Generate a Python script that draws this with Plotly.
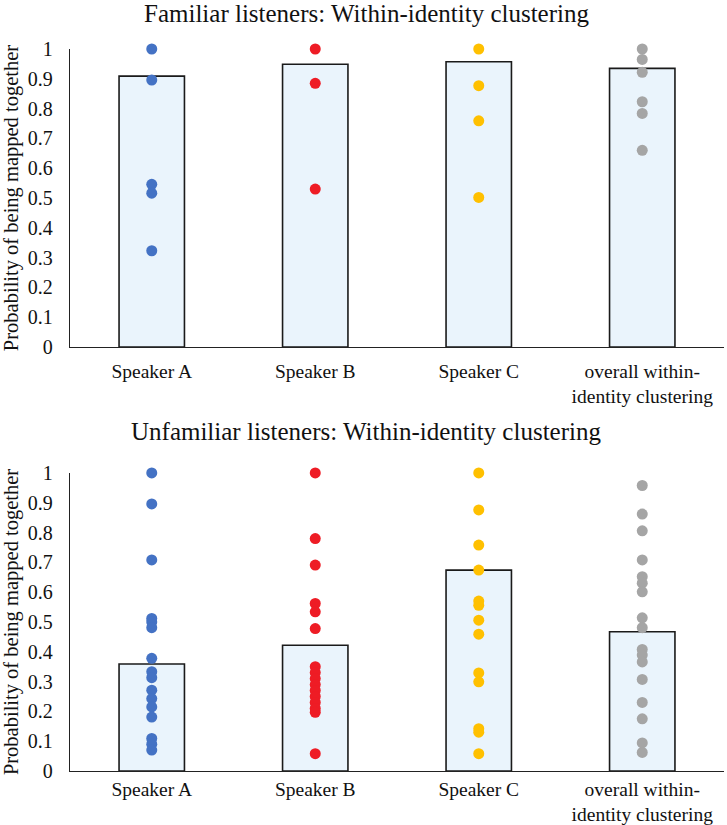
import plotly.graph_objects as go
from plotly.subplots import make_subplots

categories = ["Speaker A", "Speaker B", "Speaker C", "overall within-<br>identity clustering"]
colors = ["#4472C4", "#EE1C25", "#FFC000", "#A5A5A5"]

# Familiar listeners
fam_means = [0.909, 0.949, 0.957, 0.935]
fam_a = [1.0, 0.896, 0.546, 0.516, 0.323]
fam_b = [1.0, 0.885, 0.530]
fam_c = [1.0, 0.877, 0.759, 0.502]
fam_all = [1.0, 0.965, 0.922, 0.823, 0.784, 0.660]

# Unfamiliar listeners
unf_means = [0.359, 0.422, 0.674, 0.467]
unf_a = [1.0, 0.896, 0.708, 0.512, 0.50, 0.481, 0.378, 0.333, 0.313, 0.271, 0.243, 0.215, 0.181, 0.109, 0.09, 0.070]
unf_b = [1.0, 0.78, 0.691, 0.562, 0.534, 0.478, 0.35, 0.33, 0.31, 0.29, 0.27, 0.25, 0.23, 0.21, 0.197, 0.058]
unf_c = [1.0, 0.876, 0.758, 0.674, 0.57, 0.556, 0.506, 0.459, 0.329, 0.299, 0.142, 0.13, 0.058]
unf_all = [0.958, 0.862, 0.806, 0.708, 0.652, 0.63, 0.601, 0.514, 0.481, 0.408, 0.389, 0.366, 0.307, 0.23, 0.175, 0.094, 0.062]

yticks = [0, 0.1, 0.2, 0.3, 0.4, 0.5, 0.6, 0.7, 0.8, 0.9, 1]
yticktext = ["0", "0.1", "0.2", "0.3", "0.4", "0.5", "0.6", "0.7", "0.8", "0.9", "1"]

FONT = "Liberation Serif"

fig = make_subplots(rows=2, cols=1)

panels = [
    (1, fam_means, [fam_a, fam_b, fam_c, fam_all]),
    (2, unf_means, [unf_a, unf_b, unf_c, unf_all]),
]
for row, means, groups in panels:
    fig.add_trace(go.Bar(x=categories, y=means, width=0.4,
                         marker=dict(color="#EAF4FC", line=dict(color="#1a1a1a", width=1.6)),
                         showlegend=False, hoverinfo="skip"), row=row, col=1)
    for cat, vals, col in zip(categories, groups, colors):
        fig.add_trace(go.Scatter(x=[cat] * len(vals), y=vals, mode="markers",
                                 marker=dict(color=col, size=11, line=dict(width=0)),
                                 cliponaxis=False, showlegend=False), row=row, col=1)

for row in (1, 2):
    fig.update_xaxes(row=row, col=1, showline=True, linecolor="#222", linewidth=1.3,
                     ticks="", showgrid=False, automargin=False,
                     tickfont=dict(family=FONT, size=19.5, color="#111"),
                     ticklabelstandoff=0 if row == 2 else 6, fixedrange=True)
    fig.update_yaxes(row=row, col=1, range=[0, 1], showline=True, linecolor="#222", linewidth=1.3,
                     tickvals=yticks, ticktext=yticktext, showgrid=False, zeroline=False,
                     automargin=False, ticks="",
                     tickfont=dict(family=FONT, size=20, color="#111"), ticklabelstandoff=12,
                     title=dict(text="Probability of being mapped together",
                                font=dict(family=FONT, size=20.5, color="#111"), standoff=6))

fig.update_layout(
    template="none",
    font=dict(family=FONT, color="#111"),
    width=727, height=825,
    margin=dict(l=70, r=3, t=0, b=0, autoexpand=False),
    paper_bgcolor="white", plot_bgcolor="white",
    xaxis=dict(domain=[0, 1]), xaxis2=dict(domain=[0, 1]),
    yaxis=dict(domain=[0.5794, 0.9406]),
    yaxis2=dict(domain=[0.0655, 0.4267]),
    annotations=[
        dict(text="Familiar listeners: Within-identity clustering", xref="paper", yref="paper",
             x=0.453, y=0.984, xanchor="center", yanchor="middle", showarrow=False,
             font=dict(family=FONT, size=25, color="#111")),
        dict(text="Unfamiliar listeners: Within-identity clustering", xref="paper", yref="paper",
             x=0.453, y=0.4764, xanchor="center", yanchor="middle", showarrow=False,
             font=dict(family=FONT, size=25, color="#111")),
    ],
)

fig.write_html("out.html", config={"displayModeBar": False},
               post_script="document.body.style.margin='0';")
